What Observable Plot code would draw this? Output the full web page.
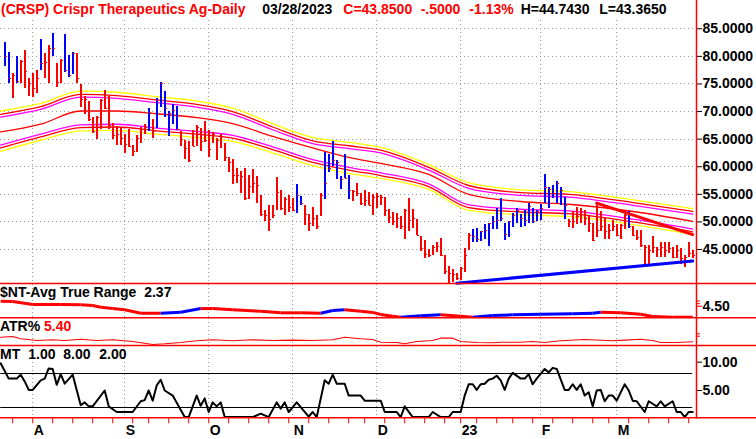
<!DOCTYPE html>
<html><head><meta charset="utf-8">
<script src="https://cdn.jsdelivr.net/npm/d3@7"></script>
<script src="https://cdn.jsdelivr.net/npm/@observablehq/plot@0.6"></script>
<style>
body{margin:0;background:#fff;}
#chart{position:relative;width:756px;height:439px;overflow:hidden;background:#fff;font-family:"Liberation Sans",Arial,sans-serif;}
#chart > svg{position:absolute;left:0;}
</style></head><body><div id="chart"></div>
<script>
// ---------- DATA ----------
const barHigh = [82.5,80.7,76.9,80.0,79.3,81.1,75.9,76.9,77.4,83.1,80.6,82.0,84.1,78.7,79.4,84.0,80.2,80.7,80.5,74.9,72.7,71.9,68.9,69.1,72.2,73.8,72.7,67.8,67.3,
67.2,65.9,66.7,63.9,65.7,67.1,67.7,70.5,68.5,72.4,75.3,73.6,70.0,71.3,70.9,66.4,64.8,64.6,66.6,67.5,66.9,68.2,66.6,66.2,65.1,65.9,64.3,61.6,61.3,
59.6,59.2,59.7,58.4,59.5,58.2,54.8,52.1,53.0,53.0,58.1,55.7,54.4,54.8,54.3,56.8,54.6,53.0,51.3,52.7,51.2,55.1,62.5,62.2,64.5,61.1,58.2,62.2,58.4,
55.7,57.0,55.2,55.7,55.4,54.9,55.1,54.8,54.5,52.2,51.7,51.5,50.9,52.2,54.3,52.2,50.5,47.4,46.6,45.0,45.7,46.2,47.0,43.9,41.9,41.4,40.6,41.8,45.1,
47.9,48.6,48.8,48.3,49.5,49.8,51.0,52.4,54.2,49.8,50.1,51.5,52.4,51.4,52.1,53.3,52.4,52.1,53.2,58.6,56.2,56.6,57.3,56.2,54.4,50.4,51.8,52.7,52.4,
52.1,51.0,49.8,53.4,51.8,50.6,49.5,50.3,49.5,49.5,51.4,51.8,49.2,48.5,48.5,45.7,45.7,47.4,45.4,46.3,46.2,46.2,45.3,45.7,45.1,43.9,46.3,44.74];
const barLow = [78.2,75.0,72.4,75.0,75.0,74.1,72.8,72.6,73.2,77.4,75.9,75.0,80.0,74.4,75.0,77.1,76.2,76.7,75.0,70.7,69.5,68.2,66.0,64.9,66.8,70.4,66.7,64.9,63.9,
63.9,62.4,63.4,61.9,62.6,64.3,65.9,66.3,65.2,66.9,70.8,68.9,65.5,67.7,66.5,63.7,61.4,60.8,63.6,63.6,62.7,64.4,61.6,64.2,61.1,63.3,61.0,59.0,56.8,
57.0,55.2,53.8,54.1,55.2,53.4,50.9,50.0,48.3,50.7,52.0,52.0,51.2,51.7,51.9,51.6,53.0,49.4,48.3,49.1,48.6,51.0,54.0,59.0,60.1,57.7,55.9,57.8,54.1,
53.7,54.6,53.0,52.8,53.0,51.2,52.4,53.0,51.0,49.8,49.4,48.8,48.6,46.8,48.3,48.8,47.5,44.7,43.4,43.5,43.9,44.5,43.8,40.5,38.8,39.1,39.3,39.3,40.9,
44.8,46.2,46.3,46.5,46.8,45.6,48.6,48.6,50.0,46.6,47.1,48.9,49.7,48.9,49.2,49.8,49.7,50.0,50.2,53.3,52.5,54.2,53.3,53.0,50.4,48.9,48.8,49.5,49.7,
49.4,48.0,46.4,47.1,48.2,46.9,46.9,48.3,47.4,46.8,48.6,48.8,47.4,46.6,45.4,41.8,42.3,44.2,43.6,43.6,43.5,44.2,43.3,43.3,42.3,41.8,43.6,43.37];
const barClose = [79.9,76.0,76.5,75.5,79.0,77.2,75.0,74.2,76.0,78.7,78.8,81.4,81.4,75.3,79.2,77.4,76.5,80.5,75.9,72.1,72.2,68.6,66.3,69.0,72.0,70.6,67.5,65.7,65.8,
65.2,64.0,63.7,62.8,65.2,66.7,67.2,69.9,66.3,72.0,75.0,70.5,69.6,70.2,66.7,64.9,63.3,61.1,63.7,67.1,64.5,64.8,63.1,65.9,64.8,65.5,61.6,60.8,58.5,
58.5,58.2,54.2,56.4,56.9,56.6,51.3,51.2,50.4,51.2,55.3,52.4,54.1,52.6,52.1,54.8,53.3,51.3,49.8,50.7,49.1,54.7,57.0,59.6,61.1,60.8,57.6,57.9,55.7,
55.6,55.1,53.3,53.9,53.0,54.5,54.6,54.5,52.1,50.8,50.0,50.6,49.1,52.1,50.3,50.6,47.6,45.1,44.1,44.0,45.4,45.6,44.0,41.1,40.6,40.5,39.7,41.5,43.9,
47.5,47.3,46.8,48.3,48.5,49.7,50.1,50.3,50.6,47.7,50.0,51.2,52.1,50.7,50.3,52.8,50.1,51.9,52.4,56.2,55.8,55.1,57.0,55.7,53.0,50.0,50.1,50.9,51.8,
50.6,49.7,46.6,48.5,49.1,48.2,48.5,49.2,47.5,49.4,51.2,49.2,47.5,47.1,45.7,45.4,44.8,45.4,45.0,45.4,44.8,45.1,43.5,44.8,43.3,43.6,44.2,43.85];
const barColor = ("bbrbrrrrrbrrbrrbbbrrrrrrrrrrr" + "rrrrrrrbrbbbbbbrrrrrrrrrrrrrr" +
  "rrrrrrrrrrrrrrrbbrrrrrbbbbbbb" + "rrrrrrrrrrrrrrrrrrrrrrrrrrrrr" +
  "rbbbbbbbbbbbbbbbbbbbbbbbbrrrr" + "rrrrrrrrrrrbrrrrrrrrrrrrrrrr").split("");

const priceTicks = [45, 50, 55, 60, 65, 70, 75, 80, 85];

// envelope bands (sampled)
const bandIdx = [-1, 9, 19, 28, 38, 48, 57, 67, 77, 86, 94, 106, 116, 129, 141, 158, 172];
const yellowUp  = [70.1,71.5,73.7,73.5,72.7,71.9,70.6,67.8,65.3,64.4,63.5,60.4,57.1,55.8,55.5,53.9,52.4];
const redUp     = [69.5,70.9,73.1,72.9,72.1,71.3,70.0,67.2,64.7,63.8,63.0,59.9,56.6,55.3,55.0,53.4,51.9];
const magentaUp = [69.0,70.4,72.6,72.4,71.6,70.8,69.5,66.7,64.2,63.3,62.5,59.4,56.1,54.8,54.5,52.9,51.4];
const midLine   = [66.3,67.7,70.1,70.1,69.6,68.9,67.8,65.5,63.4,61.7,60.6,58.6,55.0,53.7,53.2,51.8,50.1];
const magentaLo = [63.9,65.9,67.6,67.7,67.0,66.4,65.7,63.6,61.3,59.9,58.9,56.9,53.1,52.3,52.0,50.4,48.7];
const redLo     = [63.4,65.4,67.1,67.2,66.5,65.9,65.2,63.1,60.8,59.4,58.4,56.4,52.6,51.8,51.5,49.9,48.2];
const yellowLo  = [62.8,64.8,66.5,66.6,65.9,65.3,64.6,62.5,60.2,58.8,57.9,55.9,52.1,51.3,51.0,49.4,47.7];

// trend lines
const upTrendIdx = [113, 172], upTrendVal = [38.9, 42.9];
const downTrendIdx = [148, 172], downTrendVal = [53.4, 47.7];

// ATR
const atrIdx = [-1,2,7,14,19,22,24,27,30,34,39,44,49,52,57,64,69,74,79,82,85,89,92,94,97,99,104,109,114,117,122,127,134,142,147,149,154,159,162,167,172];
const atrVal = [5.47,5.40,4.83,4.83,4.77,4.64,4.31,4.05,3.80,3.14,3.14,3.34,4.05,4.05,3.80,3.53,3.22,3.22,3.14,3.67,3.80,3.53,3.30,2.89,2.56,2.37,2.64,2.83,2.56,2.37,2.70,2.83,2.95,3.03,3.14,3.34,3.22,2.95,2.50,2.37,2.37];

// ATR %
const atrPctIdx = [-1,2,4,8,12,15,19,23,27,32,37,40,44,48,52,57,62,67,72,77,82,85,89,92,94,98,100,103,107,109,112,114,118,122,124,129,132,135,139,145,152,155,159,162,164,168,172];
const atrPctVal = [6.23,6.35,5.97,5.68,5.80,5.68,5.90,5.68,5.80,5.52,5.02,5.13,5.35,5.63,5.80,5.63,5.80,5.68,5.75,5.68,5.80,6.23,5.97,5.85,5.40,5.35,5.13,5.52,5.68,6.07,6.07,5.52,5.35,5.30,5.40,5.40,5.52,5.35,5.63,5.85,5.63,5.75,5.90,5.68,5.35,5.35,5.47];

// MT
const mtIdx = [-1,1,3,4,5,6,7,9,10,11,12,13,14,15,17,19,20,21,22,25,26,28,32,34,35,36,37,38,39,40,42,45,46,48,49,50,51,52,53,54,55,62,64,66,68,69,70,71,73,76,77,78,80,81,82,83,85,86,89,90,94,95,98,99,100,102,106,107,109,111,112,114,115,116,117,118,119,120,121,122,123,124,125,126,127,129,130,131,132,133,135,136,137,138,140,141,142,143,144,145,146,147,148,149,150,151,152,153,155,156,157,158,160,161,163,164,165,167,168,169,170,171,172];
const mtVal = [9.8,7.1,7.1,7.8,6.6,5.1,5.1,6.8,7.1,8.9,8.8,6.0,7.9,6.2,7.8,2.4,2.9,2.2,2.2,5.0,2.2,1.2,1.2,3.1,3.3,5.0,3.2,5.9,6.9,5.0,4.1,0.3,0.3,4.1,2.3,3.6,1.2,2.9,2.2,2.9,0.3,0.3,0.9,0.3,2.9,1.8,2.9,1.2,2.9,0.4,1.2,0.3,6.8,6.2,7.8,6.2,6.2,4.1,4.1,3.2,3.2,1.2,1.2,0.3,2.2,0.3,0.3,1.2,0.3,0.3,1.2,1.2,4.1,6.1,6.1,5.1,6.1,6.2,6.9,7.1,7.6,6.8,5.1,7.1,8.1,7.1,7.1,7.9,6.1,7.1,8.8,8.2,9.0,8.8,5.1,5.1,6.1,5.1,6.1,4.1,4.7,2.2,5.0,5.1,3.1,4.1,4.1,3.2,6.1,5.0,3.2,3.1,1.2,3.1,2.2,3.1,2.2,3.1,1.2,1.2,0.3,1.2,1.2];
const mtLevels = [2, 8];
const mtTicks = [5, 10];

// x axis
const monthIdx = [7, 30, 51, 72, 93, 114, 134, 153];
const monthLabels = ["A", "S", "O", "N", "D", "23", "F", "M"];
const weekIdx = [2,7,12,17,22,27,32,36,41,46,51,56,61,66,71,76,81,86,90,95,100,105,110,114,118,123,127,132,137,142,147,151,156,161,166,171];

// ---------- BUILD ----------
const FONT = '"Liberation Sans", Arial, sans-serif';
const xDomain = [-1.05, 172.95];
const W = 756, MR = 60;
const RED = "#ff0000", BLUE = "#0000ff", GRID = "#9a9a9a";
const baseStyle = {background: "transparent", fontFamily: FONT, fontSize: "14px", fontWeight: "bold", color: "black", overflow: "visible"};

const bars = barHigh.map((h, i) => ({i, high: h, low: barLow[i], close: barClose[i], color: barColor[i] === "b" ? BLUE : RED}));
const bandRows = (arr) => bandIdx.map((i, k) => ({i, v: arr[k]}));
const pairs = (ix, vs) => ix.map((i, k) => ({i, v: vs[k]}));
const monthMap = new Map(monthIdx.map((d, k) => [d, monthLabels[k]]));
const vGrid = Plot.ruleX(monthIdx, {stroke: GRID, strokeDasharray: "1,3", strokeWidth: 1, shapeRendering: "crispEdges"});

const chart = document.getElementById("chart");
function place(svg, top) { svg.style.top = top + "px"; chart.appendChild(svg); }

// price panel
const bandLine = (arr, color) => Plot.line(bandRows(arr), {x: "i", y: "v", stroke: color, strokeWidth: 1.3, curve: "monotone-x", clip: true});
const price = Plot.plot({
  width: W, height: 284, marginTop: 20, marginBottom: 0, marginLeft: 0, marginRight: MR,
  style: baseStyle,
  x: {domain: xDomain, axis: null},
  y: {domain: [38.66, 86.5], axis: null},
  marks: [
    Plot.ruleY(priceTicks, {stroke: GRID, strokeDasharray: "1,3", shapeRendering: "crispEdges"}),
    vGrid,
    bandLine(yellowUp, "#ffff00"), bandLine(redUp, RED), bandLine(magentaUp, "#ff00ff"),
    bandLine(midLine, RED),
    bandLine(magentaLo, "#ff00ff"), bandLine(redLo, RED), bandLine(yellowLo, "#ffff00"),
    Plot.ruleX(bars, {x: "i", y1: "low", y2: "high", stroke: "color", strokeWidth: 2, shapeRendering: "crispEdges"}),
    Plot.ruleY(bars, {y: "close", x1: d => d.i + 0.2, x2: d => d.i + 0.7, stroke: RED, strokeWidth: 1, shapeRendering: "crispEdges"}),
    Plot.line(pairs(upTrendIdx, upTrendVal), {x: "i", y: "v", stroke: BLUE, strokeWidth: 3}),
    Plot.line(pairs(downTrendIdx, downTrendVal), {x: "i", y: "v", stroke: RED, strokeWidth: 3}),
    Plot.axisY({anchor: "right", label: null, ticks: priceTicks, tickFormat: d3.format(".4f"), tickSize: 5, tickPadding: 1,
      fontSize: 14, fontWeight: "bold", fill: "black", stroke: "black"})
  ]
});
place(price, 0);

// ATR panel
const atrRows = pairs(atrIdx, atrVal);
const atrSegs = atrRows.slice(1).map((d, k) => ({i1: atrRows[k].i, v1: atrRows[k].v, i2: d.i, v2: d.v, c: d.v > atrRows[k].v ? BLUE : RED}));
const atr = Plot.plot({
  width: W, height: 34, marginTop: 0, marginBottom: 0, marginLeft: 0, marginRight: MR,
  style: baseStyle,
  x: {domain: xDomain, axis: null},
  y: {domain: [2.12, 8.71], axis: null},
  marks: [
    vGrid,
    Plot.link(atrSegs, {x1: "i1", y1: "v1", x2: "i2", y2: "v2", stroke: "c", strokeWidth: 3, clip: true}),
    Plot.axisY({anchor: "right", label: null, ticks: [4.5], tickFormat: d3.format(".2f"), tickSize: 5, tickPadding: 1,
      fontSize: 14, fontWeight: "bold", fill: "black", stroke: RED}),
    Plot.axisY({anchor: "right", label: null, ticks: [5.0, 5.5], tickFormat: () => "", tickSize: 3, stroke: RED})
  ]
});
place(atr, 284);

// ATR% panel
const atrp = Plot.plot({
  width: W, height: 28, marginTop: 0, marginBottom: 0, marginLeft: 0, marginRight: MR,
  style: baseStyle,
  x: {domain: xDomain, axis: null},
  y: {domain: [4.68, 9.35], axis: null},
  marks: [
    vGrid,
    Plot.line(pairs(atrPctIdx, atrPctVal), {x: "i", y: "v", stroke: RED, strokeWidth: 1.1, clip: true}),
    Plot.axisY({anchor: "right", label: null, ticks: [6.4, 6.8], tickFormat: () => "", tickSize: 3, stroke: RED})
  ]
});
place(atrp, 318);

// MT panel
const mtRows = pairs(mtIdx, mtVal);
const mt = Plot.plot({
  width: W, height: 93, marginTop: 0, marginBottom: 20.7, marginLeft: 0, marginRight: MR,
  style: baseStyle,
  x: {domain: xDomain, axis: null},
  y: {domain: [0, 12.77], axis: null},
  marks: [
    vGrid,
    Plot.ruleY(mtLevels, {x1: bars[0].i - 1, x2: bars[bars.length - 1].i, stroke: "black", strokeWidth: 1.2, clip: true}),
    Plot.line(mtRows, {x: "i", y: "v", stroke: "black", strokeWidth: 2, clip: true}),
    Plot.axisY({anchor: "right", label: null, ticks: mtTicks, tickFormat: d3.format(".2f"), tickSize: 5, tickPadding: 1,
      fontSize: 14, fontWeight: "bold", fill: "black", stroke: "black"}),
    Plot.axisX({anchor: "bottom", label: null, ticks: weekIdx, tickSize: 5, tickFormat: () => "", stroke: RED}),
    Plot.axisX({anchor: "bottom", label: null, ticks: monthIdx, tickSize: 0, tickPadding: 6, tickFormat: d => monthMap.get(d),
      textAnchor: "start", dx: 1, fontSize: 14, fontWeight: "bold", fill: "black"})
  ]
});
place(mt, 346);

// overlay: frame lines and labels
const NS = "http://www.w3.org/2000/svg";
const ov = document.createElementNS(NS, "svg");
ov.setAttribute("width", W); ov.setAttribute("height", 439);
ov.style.top = "0px"; ov.style.position = "absolute"; ov.style.left = "0px";
ov.style.fontFamily = FONT; ov.style.fontWeight = "bold"; ov.style.fontSize = "14px";
function line(x1, y1, x2, y2) {
  const l = document.createElementNS(NS, "line");
  l.setAttribute("x1", x1); l.setAttribute("y1", y1); l.setAttribute("x2", x2); l.setAttribute("y2", y2);
  l.setAttribute("stroke", RED); l.setAttribute("stroke-width", 1.5);
  ov.appendChild(l);
}
[283.5, 317.8, 345.5, 417.8].forEach(y => line(0, y, W, y));
line(696.5, 0, 696.5, 418.5);
function txt(s, x, y, color) {
  const t = document.createElementNS(NS, "text");
  t.setAttribute("x", x); t.setAttribute("y", y); t.setAttribute("fill", color);
  t.setAttribute("style", "white-space:pre");
  t.textContent = s; ov.appendChild(t);
}
txt("(CRSP) Crispr Therapeutics Ag-Daily", 1, 13.5, RED);
txt("03/28/2023", 262.3, 13.5, "black");
txt("C=43.8500", 343.3, 13.5, RED);
txt("-.5000", 420.7, 13.5, RED);
txt("-1.13%", 469.3, 13.5, RED);
txt("H=44.7430", 520.7, 13.5, "black");
txt("L=43.3650", 599.3, 13.5, "black");
txt("$NT-Avg True Range  2.37", 0, 297, "black");
txt("ATR%", 0, 331, "black");
txt("5.40", 44, 331, RED);
txt("MT", 0, 358.5, "black");
txt("1.00", 28.3, 358.5, "black");
txt("8.00", 63.3, 358.5, "black");
txt("2.00", 99.3, 358.5, "black");
chart.appendChild(ov);
</script></body></html>
